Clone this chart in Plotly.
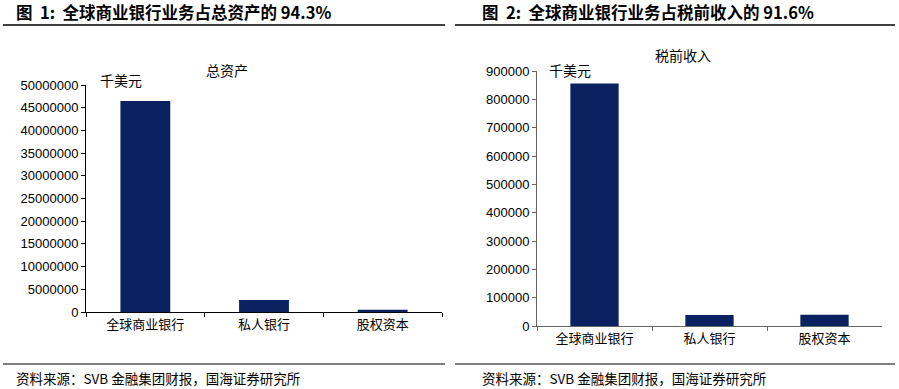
import plotly.graph_objects as go

categories = ["全球商业银行", "私人银行", "股权资本"]
total_assets = [46500000, 2650000, 500000]
pretax_income = [856000, 38500, 40000]
left_ticks = [0, 5000000, 10000000, 15000000, 20000000, 25000000, 30000000, 35000000, 40000000, 45000000, 50000000]
right_ticks = [0, 100000, 200000, 300000, 400000, 500000, 600000, 700000, 800000, 900000]

W, H = 899, 389
BAR = "#0b2260"
FONT = "Liberation Sans, Noto Sans CJK SC, Arial"
CJK = "Noto Sans CJK SC, Liberation Sans"

def px(x):
    return x / W

def py(y):
    return 1 - y / H

fig = go.Figure()
fig.add_trace(go.Bar(x=categories, y=total_assets, marker=dict(color=BAR, line=dict(width=0)),
                     xaxis="x", yaxis="y", width=0.42))
fig.add_trace(go.Bar(x=categories, y=pretax_income, marker=dict(color=BAR, line=dict(width=0)),
                     xaxis="x2", yaxis="y2", width=0.42))

ycommon = dict(showgrid=False, zeroline=False, showline=True, ticks="outside", automargin=False,
               tickfont=dict(family=FONT, size=13, color="#000"))
xcommon = dict(showgrid=False, zeroline=False, showline=True, ticks="outside", automargin=False,
               type="category", tickson="boundaries",
               tickfont=dict(family=CJK, size=13, color="#000"))

fig.update_layout(
    template="none",
    width=W, height=H, margin=dict(l=0, r=0, t=0, b=0, autoexpand=False),
    paper_bgcolor="white", plot_bgcolor="white", showlegend=False,
    xaxis=dict(domain=[px(86), px(442)], anchor="y", linecolor="#000", ticklen=4, tickcolor="#000", **xcommon),
    yaxis=dict(domain=[py(312), py(85)], anchor="x", range=[0, 50000000], tickvals=left_ticks,
               ticktext=[str(v) for v in left_ticks], linecolor="#000", ticklen=4, tickcolor="#000", **ycommon),
    xaxis2=dict(domain=[px(537), px(882)], anchor="y2", linecolor="#666", ticklen=4, tickcolor="#666", **xcommon),
    yaxis2=dict(domain=[py(326), py(71)], anchor="x2", range=[0, 900000], tickvals=right_ticks,
                ticktext=[str(v) for v in right_ticks], linecolor="#666", ticklen=4, tickcolor="#666", **ycommon),
)

ann = []
ann.append(dict(text="<b>图  1:  全球商业银行业务占总资产的 94.3%</b>", x=px(14), y=py(12), xref="paper", yref="paper",
                xanchor="left", yanchor="middle", showarrow=False, font=dict(family=CJK, size=16.5, color="#000")))
ann.append(dict(text="<b>图  2:  全球商业银行业务占税前收入的 91.6%</b>", x=px(480), y=py(12), xref="paper", yref="paper",
                xanchor="left", yanchor="middle", showarrow=False, font=dict(family=CJK, size=16.5, color="#000")))
ann.append(dict(text="总资产", x=px(227), y=py(70), xref="paper", yref="paper", xanchor="center", yanchor="middle",
                showarrow=False, font=dict(family=CJK, size=14, color="#000")))
ann.append(dict(text="税前收入", x=px(683), y=py(55), xref="paper", yref="paper", xanchor="center", yanchor="middle",
                showarrow=False, font=dict(family=CJK, size=14, color="#000")))
ann.append(dict(text="千美元", x=px(98), y=py(80), xref="paper", yref="paper", xanchor="left", yanchor="middle",
                showarrow=False, font=dict(family=CJK, size=14, color="#000")))
ann.append(dict(text="千美元", x=px(547), y=py(70), xref="paper", yref="paper", xanchor="left", yanchor="middle",
                showarrow=False, font=dict(family=CJK, size=14, color="#000")))
for x0 in (14, 480):
    ann.append(dict(text="资料来源：SVB 金融集团财报，国海证券研究所", x=px(x0), y=py(378), xref="paper", yref="paper",
                    xanchor="left", yanchor="middle", showarrow=False, font=dict(family=CJK, size=13.5, color="#000")))
fig.update_layout(annotations=ann)

shapes = []
for (a, b) in ((3, 445), (455, 895)):
    shapes.append(dict(type="line", xref="paper", yref="paper", x0=px(a), x1=px(b), y0=py(25), y1=py(25),
                       line=dict(color="#000", width=1.5)))
    shapes.append(dict(type="line", xref="paper", yref="paper", x0=px(a), x1=px(b), y0=py(364), y1=py(364),
                       line=dict(color="#000", width=1.2)))
fig.update_layout(shapes=shapes)

fig.write_html("out.html", config={"displayModeBar": False},
               post_script="document.body.style.margin='0';document.body.style.overflow='hidden';")
